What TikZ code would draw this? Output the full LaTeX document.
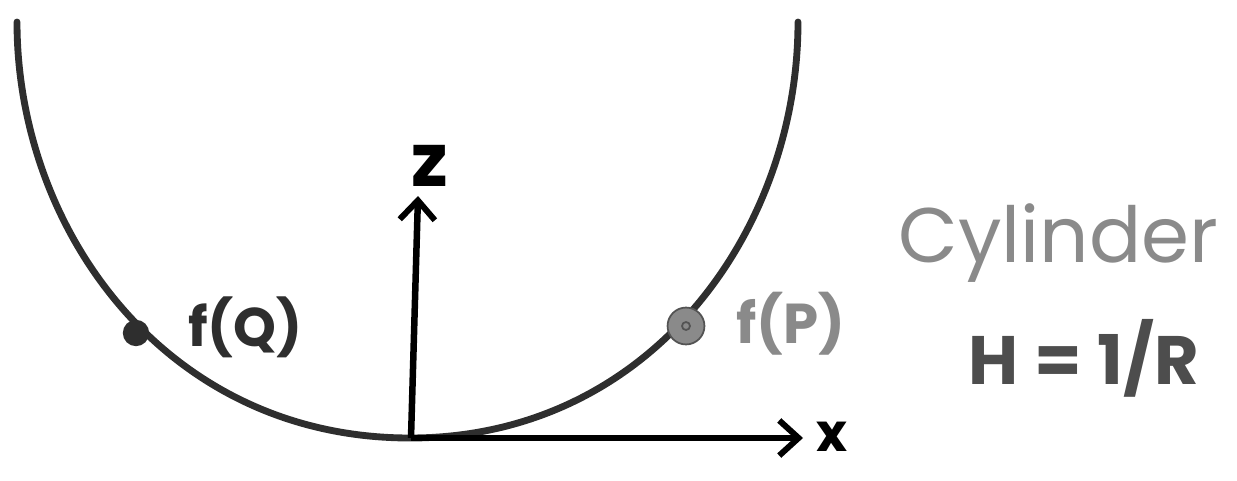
\documentclass[tikz,border=0pt]{standalone}
\usepackage{fontspec}
\newfontfamily\hand{Poppins}
\usetikzlibrary{arrows.meta}
\definecolor{ink}{HTML}{2E2E2E}
\definecolor{pencil}{HTML}{8A8A8A}
\begin{document}
\begin{tikzpicture}[x=0.02cm,y=-0.02cm,
  curve/.style={ink, line width=3.9pt, line cap=round},
  axis/.style={black, line width=3.7pt, -{Straight Barb[length=11pt,width=20pt,line width=3.4pt]}},
  lbl/.style={font=\hand, inner sep=0pt, anchor=base west},
]
\useasboundingbox (0,0) rectangle (1237,480);
% the cylinder cross-section
\coordinate (L) at (17,22);
\coordinate (B) at (410,438);
\coordinate (R) at (798,22);
\draw[curve] (L) .. controls (17,230) and (166,438) .. (B)
                 .. controls (651,438) and (798,230) .. (R);
% axes
\coordinate (O) at (411,438);
\coordinate (zt) at (418,196);
\coordinate (xt) at (803,438);
\draw[axis] (O) -- (zt);
\draw[axis] (O) -- (xt);
\node[font=\hand\bfseries\fontsize{42}{42}\selectfont, inner sep=0pt] (zl) at (430,166) {z};
\node[font=\hand\bfseries\fontsize{30}{30}\selectfont, inner sep=0pt] (xl) at (832,437) {x};
% points
\node[circle, fill=ink, minimum size=15pt, inner sep=0pt] (Q) at (136,333) {};
\node[circle, fill=pencil, draw=pencil!60!black, line width=1pt, minimum size=21pt, inner sep=0pt] (P) at (686,326) {};
\draw[pencil!60!black, line width=1pt] (P.center) circle (4);
\node[lbl, font=\hand\bfseries\fontsize{31}{31}\selectfont, text=ink] (fQ) at (188,346) {f(Q)};
\node[lbl, font=\hand\bfseries\fontsize{32}{32}\selectfont, text=pencil] (fP) at (736,343) {f(P)};
% caption
\node[lbl, font=\hand\fontsize{44}{44}\selectfont, text=pencil] (cyl) at (898,262) {Cylinder};
\node[lbl, font=\hand\bfseries\fontsize{39}{39}\selectfont, text=ink!85] (H) at (968,384) {H\hspace{9pt}=\hspace{9pt}1/R};
\end{tikzpicture}
\end{document}
